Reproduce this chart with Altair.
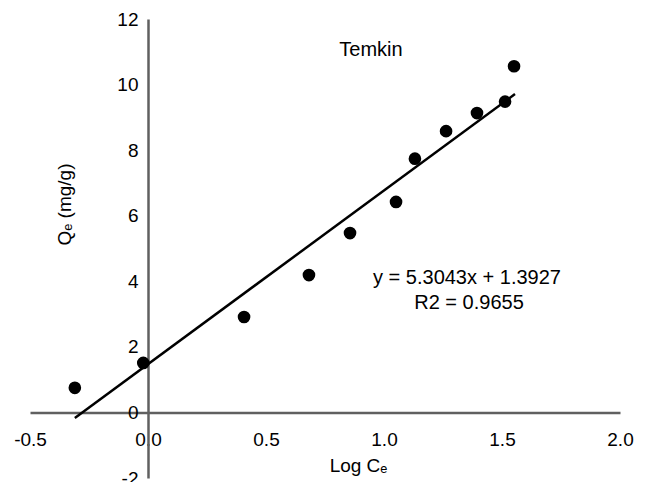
import altair as alt
import pandas as pd

# Data
log_ce = [-0.31, -0.02, 0.407, 0.682, 0.856, 1.051, 1.131, 1.263, 1.394, 1.513, 1.551]
qe = [0.75, 1.51, 2.91, 4.19, 5.47, 6.42, 7.74, 8.58, 9.13, 9.48, 10.56]
fit_x = [-0.31, 1.555]
fit_y = [-0.17, 9.71]
x_ticks = [-0.5, 0.0, 0.5, 1.0, 1.5, 2.0]
y_ticks = [-2, 0, 2, 4, 6, 8, 10, 12]
label_title = "Temkin"
eq_line1 = "y = 5.3043x + 1.3927"
eq_line2 = "R2 = 0.9655"

pts = pd.DataFrame({"x": log_ce, "y": qe})
fit = pd.DataFrame({"x": fit_x, "y": fit_y})

FONT = "Liberation Sans"

xscale = alt.Scale(domain=[-0.5, 2.0], nice=False, zero=False)
yscale = alt.Scale(domain=[-2, 12], nice=False, zero=False)

xaxis = alt.Axis(
    values=x_ticks, format=".1f", labelExpr="replace(datum.label, '\u2212', '-')",
    ticks=False, grid=False, offset=-65.5, labelPadding=18,
    labelFontSize=19, labelFont=FONT, labelColor="#000000",
    domainColor="#606060", domainWidth=2.5,
    title="Log C\u2091", titleFont=FONT, titleFontSize=19, titleFontWeight="normal",
    titleColor="#000000", titleX=328, titleY=53, titleAlign="center", titleBaseline="middle",
    labelFlush=False, labelOverlap=False,
)
yaxis = alt.Axis(
    values=y_ticks, format="d", labelExpr="replace(datum.label, '\u2212', '-')",
    ticks=False, grid=False, offset=-118, labelPadding=10,
    labelFontSize=19, labelFont=FONT, labelColor="#000000",
    domainColor="#606060", domainWidth=2.5,
    title="Q\u2091 (mg/g)", titleFont=FONT, titleFontSize=19, titleFontWeight="normal",
    titleColor="#000000", titleX=-84, titleY=185, titleAngle=270,
    titleAlign="center", titleBaseline="middle",
    labelFlush=False, labelOverlap=False,
)

line = alt.Chart(fit).mark_line(color="#000000", strokeWidth=2.5).encode(
    x=alt.X("x:Q", scale=xscale, axis=xaxis),
    y=alt.Y("y:Q", scale=yscale, axis=yaxis),
)
points = alt.Chart(pts).mark_circle(size=160, color="#000000", opacity=1).encode(
    x=alt.X("x:Q"), y=alt.Y("y:Q")
)

def txt(s, px, py):
    return alt.Chart(pd.DataFrame({"t": [s]})).mark_text(
        font=FONT, fontSize=20, color="#000000", align="center", baseline="middle"
    ).encode(x=alt.value(px), y=alt.value(py), text="t:N")

chart = alt.layer(
    line, points,
    txt(label_title, 341, 31),
    txt(eq_line1, 437, 259),
    txt(eq_line2, 439, 284),
).properties(
    width=590, height=459,
    autosize=alt.AutoSizeParams(type="none"),
    padding={"left": 22, "top": 11, "right": 18, "bottom": 4},
    background="#ffffff",
).configure_view(stroke=None)

chart.save("out.html", embed_options={"renderer": "svg", "actions": False})
